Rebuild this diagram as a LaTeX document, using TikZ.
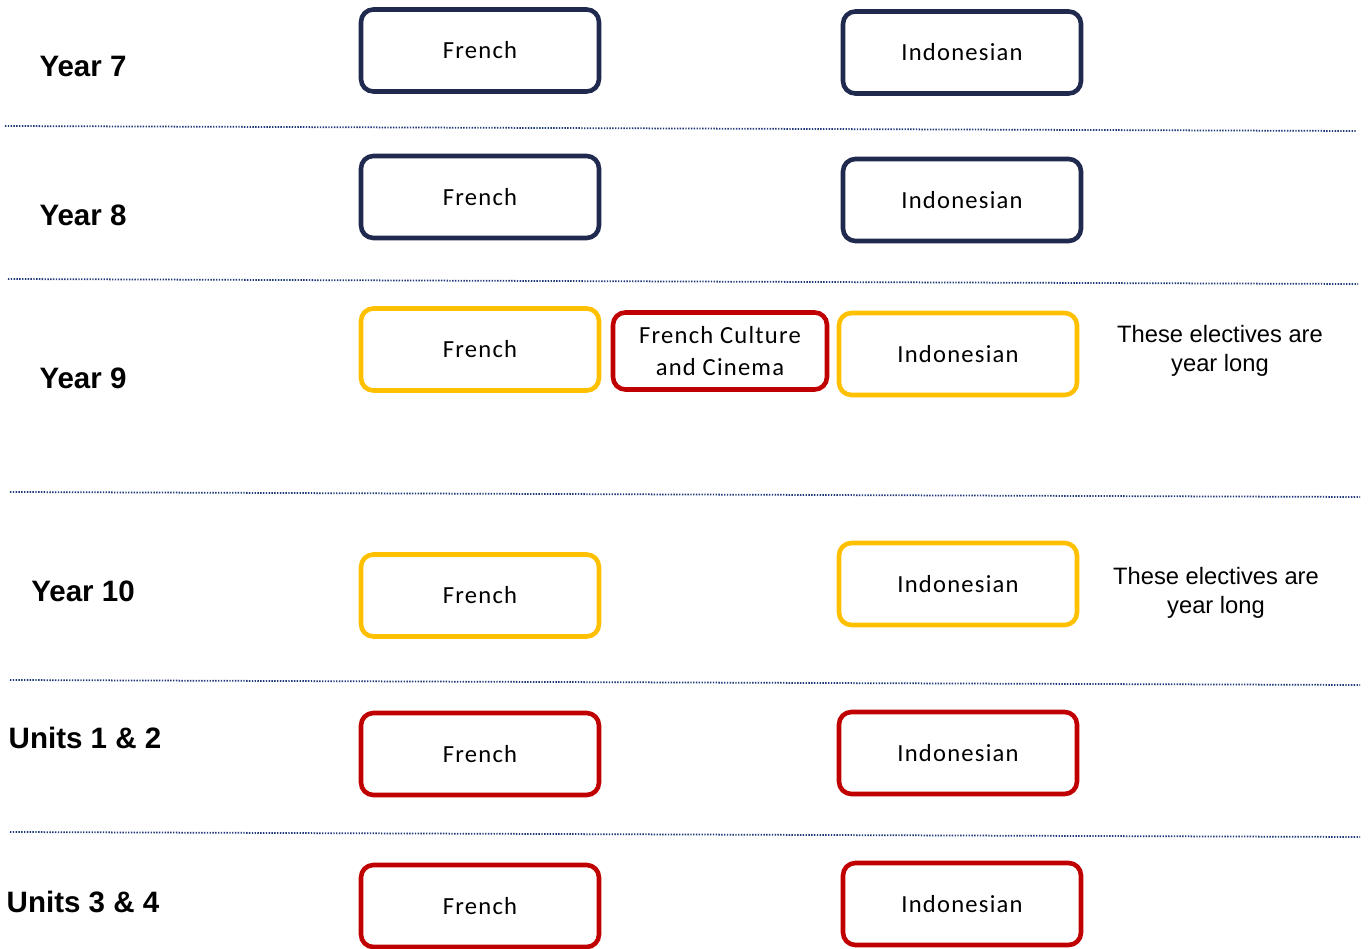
\documentclass[tikz,border=0pt]{standalone}
\usepackage{fontspec}
\setmainfont{Liberation Sans}
\newfontfamily\boxfont[LetterSpace=5]{Carlito}

\definecolor{navybox}{HTML}{1F2A4E}
\definecolor{goldbox}{HTML}{FFC000}
\definecolor{redbox}{HTML}{C00000}
\definecolor{ruleblue}{HTML}{1F3A7A}

\tikzstyle{subj} = [rectangle, rounded corners=7pt, draw, line width=2.6pt,
    minimum width=4.76cm, minimum height=1.64cm, font=\boxfont\fontsize{14}{16}\selectfont]
\tikzstyle{subjn} = [subj, draw=navybox]
\tikzstyle{subjg} = [subj, draw=goldbox]
\tikzstyle{subjr} = [subj, draw=redbox]
\tikzstyle{subjs} = [subjr, minimum width=4.28cm, minimum height=1.54cm, align=center,
    font=\boxfont\fontsize{14}{18}\selectfont]
\tikzstyle{year} = [font=\bfseries\fontsize{16.8}{19}\selectfont]
\tikzstyle{note} = [align=center, font=\fontsize{13.5}{16.5}\selectfont]
\tikzstyle{divider} = [draw=ruleblue, line width=1pt, dash pattern=on 0.8pt off 0.8pt]

\begin{document}
\begin{tikzpicture}[x=0.02cm, y=-0.02cm]
	\useasboundingbox (0,0) rectangle (1370,949);
	% year 7
	\node [year] (ya) at (83,66) {Year 7};
	\node [subjn] (fa) at (480,50.5) {French};
	\node [subjn] (ia) at (962,52.5) {Indonesian};
	\draw [divider] (5,126) -- (1357,131);
	% year 8
	\node [year] (yb) at (83,215) {Year 8};
	\node [subjn] (fb) at (480,197) {French};
	\node [subjn] (ib) at (962,200) {Indonesian};
	\draw [divider] (8,279) -- (1358,284);
	% year 9
	\node [year] (yc) at (83,378) {Year 9};
	\node [subjg] (fc) at (480,349.5) {French};
	\node [subjs] (fcc) at (720,351) {French Culture\\and Cinema};
	\node [subjg] (ic) at (958,354) {Indonesian};
	\node [note] (nc) at (1220,351) {These electives are\\year long};
	\draw [divider] (10,492) -- (1360,497);
	% year 10
	\node [year] (yd) at (83,591) {Year 10};
	\node [subjg] (fd) at (480,595.5) {French};
	\node [subjg] (id) at (958,584) {Indonesian};
	\node [note] (nd) at (1216,593) {These electives are\\year long};
	\draw [divider] (10,680) -- (1360,685);
	% units 1 and 2
	\node [year] (ue) at (85,738) {Units 1 \& 2};
	\node [subjr] (fe) at (480,754) {French};
	\node [subjr] (ie) at (958,753) {Indonesian};
	\draw [divider] (10,832) -- (1360,837);
	% units 3 and 4
	\node [year] (uf) at (83,902) {Units 3 \& 4};
	\node [subjr] (ff) at (480,906) {French};
	\node [subjr] (if) at (962,904) {Indonesian};
\end{tikzpicture}
\end{document}
